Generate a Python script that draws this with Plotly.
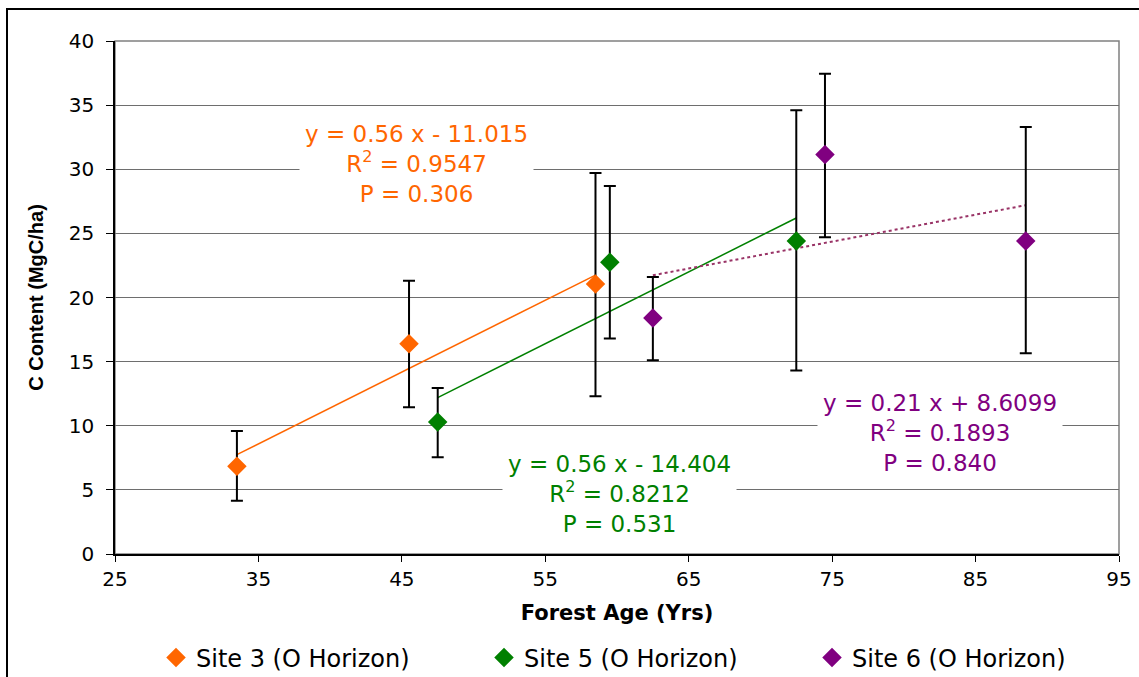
import plotly.graph_objects as go

# ---- data ----
site3_x = [33.5, 45.5, 58.5]
site3_y = [6.85, 16.4, 21.05]
site3_hi = [9.6, 21.3, 29.7]
site3_lo = [4.15, 11.45, 12.3]

site5_x = [47.5, 59.5, 72.5]
site5_y = [10.3, 22.75, 24.4]
site5_hi = [12.95, 28.7, 34.6]
site5_lo = [7.55, 16.8, 14.3]

site6_x = [62.5, 74.5, 88.5]
site6_y = [18.4, 31.15, 24.4]
site6_hi = [21.6, 37.45, 33.3]
site6_lo = [15.1, 24.7, 15.65]

trend3 = (0.56, -11.015)
trend5 = (0.56, -14.404)
trend6 = (0.21, 8.6099)

labels = ["Site 3 (O Horizon)", "Site 5 (O Horizon)", "Site 6 (O Horizon)"]
eq3 = "y = 0.56 x - 11.015<br>R<sup>2</sup> = 0.9547<br>P = 0.306"
eq5 = "y = 0.56 x - 14.404<br>R<sup>2</sup> = 0.8212<br>P = 0.531"
eq6 = "y = 0.21 x + 8.6099<br>R<sup>2</sup> = 0.1893<br>P = 0.840"

ORANGE = "#FF6600"
GREEN = "#008000"
PURPLE = "#800080"
FONT = "DejaVu Sans, Liberation Sans, Arial, sans-serif"

fig = go.Figure()


def add_trend(xs, coef, color, dash, width):
    x0, x1 = min(xs), max(xs)
    m, b = coef
    fig.add_trace(go.Scatter(x=[x0, x1], y=[m * x0 + b, m * x1 + b], mode="lines",
                             line=dict(color=color, width=width, dash=dash),
                             showlegend=False, hoverinfo="skip"))


add_trend(site3_x, trend3, ORANGE, "solid", 1.5)
add_trend(site5_x, trend5, GREEN, "solid", 1.5)
add_trend(site6_x, trend6, "#993366", "dot", 2)


def add_site(xs, ys, hi, lo, color, name):
    fig.add_trace(go.Scatter(
        x=xs, y=ys, mode="markers", name=name,
        marker=dict(symbol="diamond", size=15, color=color),
        error_y=dict(type="data", symmetric=False,
                     array=[h - y for h, y in zip(hi, ys)],
                     arrayminus=[y - l for y, l in zip(ys, lo)],
                     color="black", thickness=2, width=6),
    ))


add_site(site3_x, site3_y, site3_hi, site3_lo, ORANGE, labels[0])
add_site(site5_x, site5_y, site5_hi, site5_lo, GREEN, labels[1])
add_site(site6_x, site6_y, site6_hi, site6_lo, PURPLE, labels[2])

ann_font = dict(family=FONT, size=23)
fig.add_annotation(x=46.0, y=30.4, text=eq3, showarrow=False, bgcolor="white",
                   borderpad=5, font=dict(color=ORANGE, **ann_font), align="center")
fig.add_annotation(x=60.15, y=4.7, text=eq5, showarrow=False, bgcolor="white",
                   borderpad=5, font=dict(color=GREEN, **ann_font), align="center")
fig.add_annotation(x=82.5, y=9.45, text=eq6, showarrow=False, bgcolor="white",
                   borderpad=5, font=dict(color=PURPLE, **ann_font), align="center")

# plot-area border (gray) and outer chart border
fig.add_shape(type="rect", xref="paper", yref="paper", x0=0, x1=1, y0=0, y1=1,
              line=dict(color="#808080", width=1.5), layer="below")
fig.add_shape(type="rect", xref="paper", yref="paper",
              x0=-108 / 1004, x1=1.2, y0=-0.5, y1=1 + 32 / 513,
              line=dict(color="black", width=2))

fig.update_layout(
    width=1139, height=677,
    margin=dict(l=115, r=20, t=41, b=123, autoexpand=False),
    paper_bgcolor="white", plot_bgcolor="white",
    font=dict(family=FONT, color="black"),
    xaxis=dict(range=[25, 95], tickmode="array", tickvals=[25, 35, 45, 55, 65, 75, 85, 95],
               showgrid=False, zeroline=False, showline=True, linecolor="black", linewidth=1.5,
               ticks="outside", ticklen=6, tickcolor="black", tickfont=dict(size=20),
               title=dict(text="<b>Forest Age (Yrs)</b>", font=dict(size=21), standoff=16)),
    yaxis=dict(range=[0, 40], tickmode="array", tickvals=list(range(0, 45, 5)),
               showgrid=True, gridcolor="#6e6e6e", gridwidth=1, zeroline=False,
               showline=True, linecolor="black", linewidth=1.5,
               ticks="outside", ticklen=7, tickcolor="black", tickfont=dict(size=20),
               ticklabelstandoff=8,
               title=dict(text="<b>C Content (MgC/ha)</b>",
                          font=dict(size=20, family="Liberation Sans, Arial, sans-serif"),
                          standoff=20)),
    legend=dict(orientation="h", x=(156 - 115) / 1004, xanchor="left",
                y=-(658 - 554) / 513, yanchor="middle",
                font=dict(size=24), entrywidth=283, entrywidthmode="pixels",
                itemsizing="trace"),
    showlegend=True,
)

fig.write_html("out.html")
